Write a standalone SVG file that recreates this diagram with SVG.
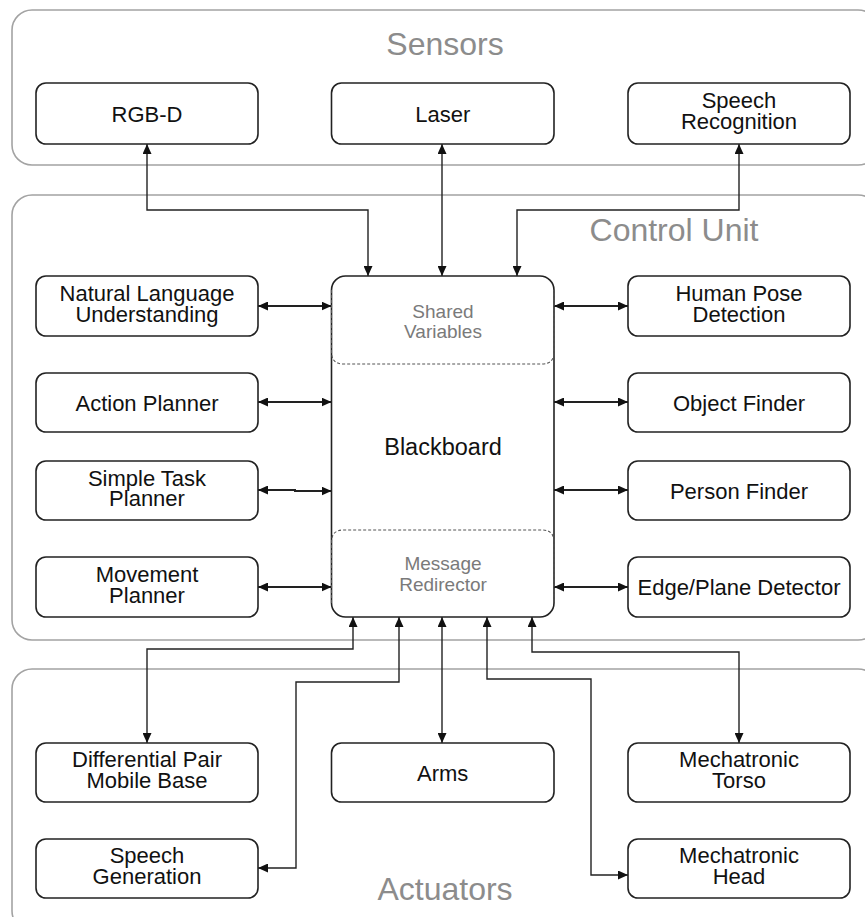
<svg xmlns="http://www.w3.org/2000/svg" width="865" height="917" viewBox="0 0 865 917">
  <defs>
    <marker id="arrow" markerUnits="userSpaceOnUse" markerWidth="10" markerHeight="9" refX="10" refY="4.5" orient="auto-start-reverse">
      <path d="M0,0 L10,4.5 L0,9 z" fill="#111"/>
    </marker>
    <style>
      .group { fill: none; stroke: #a3a3a3; stroke-width: 1.6; }
      .group-title { font-family: "Liberation Sans", Arial, sans-serif; font-size: 32px; fill: #8c8c8c; text-anchor: middle; }
      .box { fill: #fff; stroke: #222; stroke-width: 1.6; }
      .label { font-family: "Liberation Sans", Arial, sans-serif; font-size: 22px; fill: #111; text-anchor: middle; }
      .sub { fill: none; stroke: #555; stroke-width: 1.1; stroke-dasharray: 3 2; }
      .sublabel { font-family: "Liberation Sans", Arial, sans-serif; font-size: 19px; fill: #7a7a7a; text-anchor: middle; }
      .link { fill: none; stroke: #222; stroke-width: 1.4; marker-end: url(#arrow); marker-start: url(#arrow); }
      .link.thick { stroke-width: 2; }
    </style>
  </defs>

  <rect width="865" height="917" fill="#fff"/>

  <!-- Layer containers -->
  <g id="sensors-layer">
    <rect class="group" x="12" y="10" width="866" height="155" rx="20"/>
    <text class="group-title" x="445" y="55">Sensors</text>
  </g>
  <g id="control-unit-layer">
    <rect class="group" x="12" y="195" width="866" height="445" rx="20"/>
    <text class="group-title" x="674" y="241">Control Unit</text>
  </g>
  <g id="actuators-layer">
    <rect class="group" x="12" y="669" width="866" height="262" rx="20"/>
    <text class="group-title" x="445" y="900">Actuators</text>
  </g>

  <!-- Connectors -->
  <g id="connectors">
    <!-- sensors to blackboard -->
    <path class="link" d="M147,144 V210 H368 V276"/>
    <path class="link" d="M442,144 V276"/>
    <path class="link" d="M739,144 V210 H517 V276"/>
    <!-- left modules -->
    <path class="link thick" d="M258,306 H331.5"/>
    <path class="link thick" d="M258,402 H331.5"/>
    <path class="link thick" d="M258,490 H295 V491 H331.5"/>
    <path class="link thick" d="M258,587 H331.5"/>
    <!-- right modules -->
    <path class="link thick" d="M554,306 H628"/>
    <path class="link thick" d="M554,402 H628"/>
    <path class="link thick" d="M554,490 H628"/>
    <path class="link thick" d="M554,587 H628"/>
    <!-- actuators -->
    <path class="link" d="M353,617 V649 H147 V743"/>
    <path class="link" d="M399,617 V682 H296 V868 H258"/>
    <path class="link" d="M442,617 V743"/>
    <path class="link" d="M487,617 V679 H591 V875 H628"/>
    <path class="link" d="M532,617 V652 H739 V743"/>
  </g>

  <!-- Sensor nodes -->
  <g id="rgbd">
    <rect class="box" x="36" y="83" width="222" height="61" rx="10"/>
    <text class="label" x="147" y="121.5">RGB-D</text>
  </g>
  <g id="laser">
    <rect class="box" x="331.5" y="83" width="222.5" height="61" rx="10"/>
    <text class="label" x="442.7" y="121.5">Laser</text>
  </g>
  <g id="speech-recognition">
    <rect class="box" x="628" y="83" width="222" height="61" rx="10"/>
    <text class="label" x="739" y="107.5">Speech<tspan x="739" dy="21">Recognition</tspan></text>
  </g>

  <!-- Blackboard -->
  <g id="blackboard">
    <rect class="box" x="331.5" y="276" width="222.5" height="341" rx="14"/>
    <path class="sub" d="M331.5,290 V352 Q331.5,364 343.5,364 H542 Q554,364 554,352 V290"/>
    <path class="sub" d="M331.5,603 V542 Q331.5,530 343.5,530 H542 Q554,530 554,542 V603"/>
    <text class="sublabel" x="443" y="318">Shared<tspan x="443" dy="20">Variables</tspan></text>
    <text class="label" x="443" y="455" style="font-size:23.5px">Blackboard</text>
    <text class="sublabel" x="443" y="570">Message<tspan x="443" dy="21">Redirector</tspan></text>
  </g>

  <!-- Left modules -->
  <g id="natural-language-understanding">
    <rect class="box" x="36" y="276" width="222" height="60" rx="10"/>
    <text class="label" x="147" y="301">Natural Language<tspan x="147" dy="20.5">Understanding</tspan></text>
  </g>
  <g id="action-planner">
    <rect class="box" x="36" y="373" width="222" height="59" rx="10"/>
    <text class="label" x="147" y="410.5">Action Planner</text>
  </g>
  <g id="simple-task-planner">
    <rect class="box" x="36" y="461" width="222" height="59" rx="10"/>
    <text class="label" x="147" y="485.5">Simple Task<tspan x="147" dy="20.5">Planner</tspan></text>
  </g>
  <g id="movement-planner">
    <rect class="box" x="36" y="557" width="222" height="60" rx="10"/>
    <text class="label" x="147" y="581.5">Movement<tspan x="147" dy="21">Planner</tspan></text>
  </g>

  <!-- Right modules -->
  <g id="human-pose-detection">
    <rect class="box" x="628" y="276" width="222" height="60" rx="10"/>
    <text class="label" x="739" y="301">Human Pose<tspan x="739" dy="20.5">Detection</tspan></text>
  </g>
  <g id="object-finder">
    <rect class="box" x="628" y="373" width="222" height="59" rx="10"/>
    <text class="label" x="739" y="410.5">Object Finder</text>
  </g>
  <g id="person-finder">
    <rect class="box" x="628" y="461" width="222" height="59" rx="10"/>
    <text class="label" x="739" y="498.5">Person Finder</text>
  </g>
  <g id="edge-plane-detector">
    <rect class="box" x="628" y="557" width="222" height="60" rx="10"/>
    <text class="label" x="739" y="595">Edge/Plane Detector</text>
  </g>

  <!-- Actuator nodes -->
  <g id="differential-pair-mobile-base">
    <rect class="box" x="36" y="743" width="222" height="59" rx="10"/>
    <text class="label" x="147" y="767">Differential Pair<tspan x="147" dy="21">Mobile Base</tspan></text>
  </g>
  <g id="arms">
    <rect class="box" x="331.5" y="743" width="222.5" height="59" rx="10"/>
    <text class="label" x="442.7" y="780.5">Arms</text>
  </g>
  <g id="mechatronic-torso">
    <rect class="box" x="628" y="743" width="222" height="59" rx="10"/>
    <text class="label" x="739" y="767">Mechatronic<tspan x="739" dy="21">Torso</tspan></text>
  </g>
  <g id="speech-generation">
    <rect class="box" x="36" y="839" width="222" height="59" rx="10"/>
    <text class="label" x="147" y="863">Speech<tspan x="147" dy="21">Generation</tspan></text>
  </g>
  <g id="mechatronic-head">
    <rect class="box" x="628" y="839" width="222" height="59" rx="10"/>
    <text class="label" x="739" y="863">Mechatronic<tspan x="739" dy="21">Head</tspan></text>
  </g>
</svg>
